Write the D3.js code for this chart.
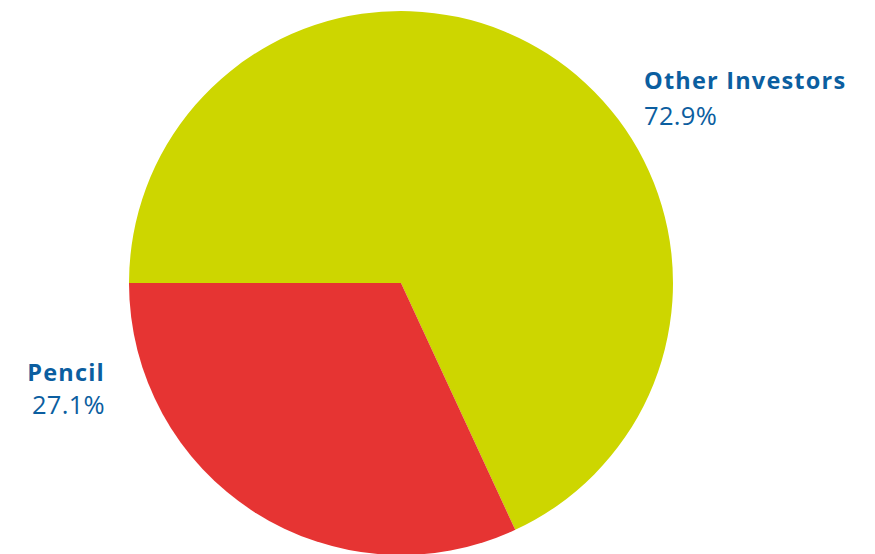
<!DOCTYPE html>
<html>
<head>
<meta charset="utf-8">
<script src="https://cdn.jsdelivr.net/npm/d3@7"></script>
<style>
  html, body { margin: 0; padding: 0; background: #fff; }
  svg { display: block; }
</style>
</head>
<body>
<svg id="chart" width="875" height="554"></svg>
<script>
// Data
const categories = ["Other Investors", "Pencil"];
const sliceShares = [68.1, 31.9];          // slice sizes as drawn in the picture
const labelValues = ["72.9%", "27.1%"];     // percentages printed on the chart
const colors = ["#CDD600", "#E63433"];

const width = 875, height = 554;
const cx = 401, cy = 283, radius = 272;
const textColor = "#0B5EA0";

const svg = d3.select("#chart");
const g = svg.append("g").attr("transform", `translate(${cx},${cy})`);

const pie = d3.pie()
  .sort(null)
  .value(d => d.v)
  .startAngle(-Math.PI / 2)
  .endAngle(1.5 * Math.PI);

const data = categories.map((c, i) => ({ name: c, v: sliceShares[i], color: colors[i], pct: labelValues[i] }));
const arc = d3.arc().innerRadius(0).outerRadius(radius);

g.selectAll("path")
  .data(pie(data))
  .join("path")
  .attr("d", arc)
  .attr("fill", d => d.data.color);

// Labels
const labelPos = [
  { x: 644, y: 89, anchor: "start", py: 125 },
  { x: 105, y: 381, anchor: "end", py: 414 }
];

data.forEach((d, i) => {
  const p = labelPos[i];
  const t1 = svg.append("text")
    .attr("x", p.x).attr("y", p.y)
    .attr("text-anchor", "start")
    .attr("font-family", "'Open Sans', sans-serif")
    .attr("font-weight", 700)
    .attr("font-size", 23.5)
    .attr("letter-spacing", 1.2)
    .attr("fill", textColor)
    .text(d.name);
  const t2 = svg.append("text")
    .attr("x", p.x).attr("y", p.py)
    .attr("text-anchor", "start")
    .attr("font-family", "'Open Sans', sans-serif")
    .attr("font-weight", 400)
    .attr("font-size", 25.5)
    .attr("letter-spacing", 0.3)
    .attr("fill", textColor)
    .text(d.pct);
  if (p.anchor === "end") {
    [t1, t2].forEach(t => {
      const w = t.node().getBBox().width;
      t.attr("x", p.x - w);
    });
  }
});
</script>
</body>
</html>
